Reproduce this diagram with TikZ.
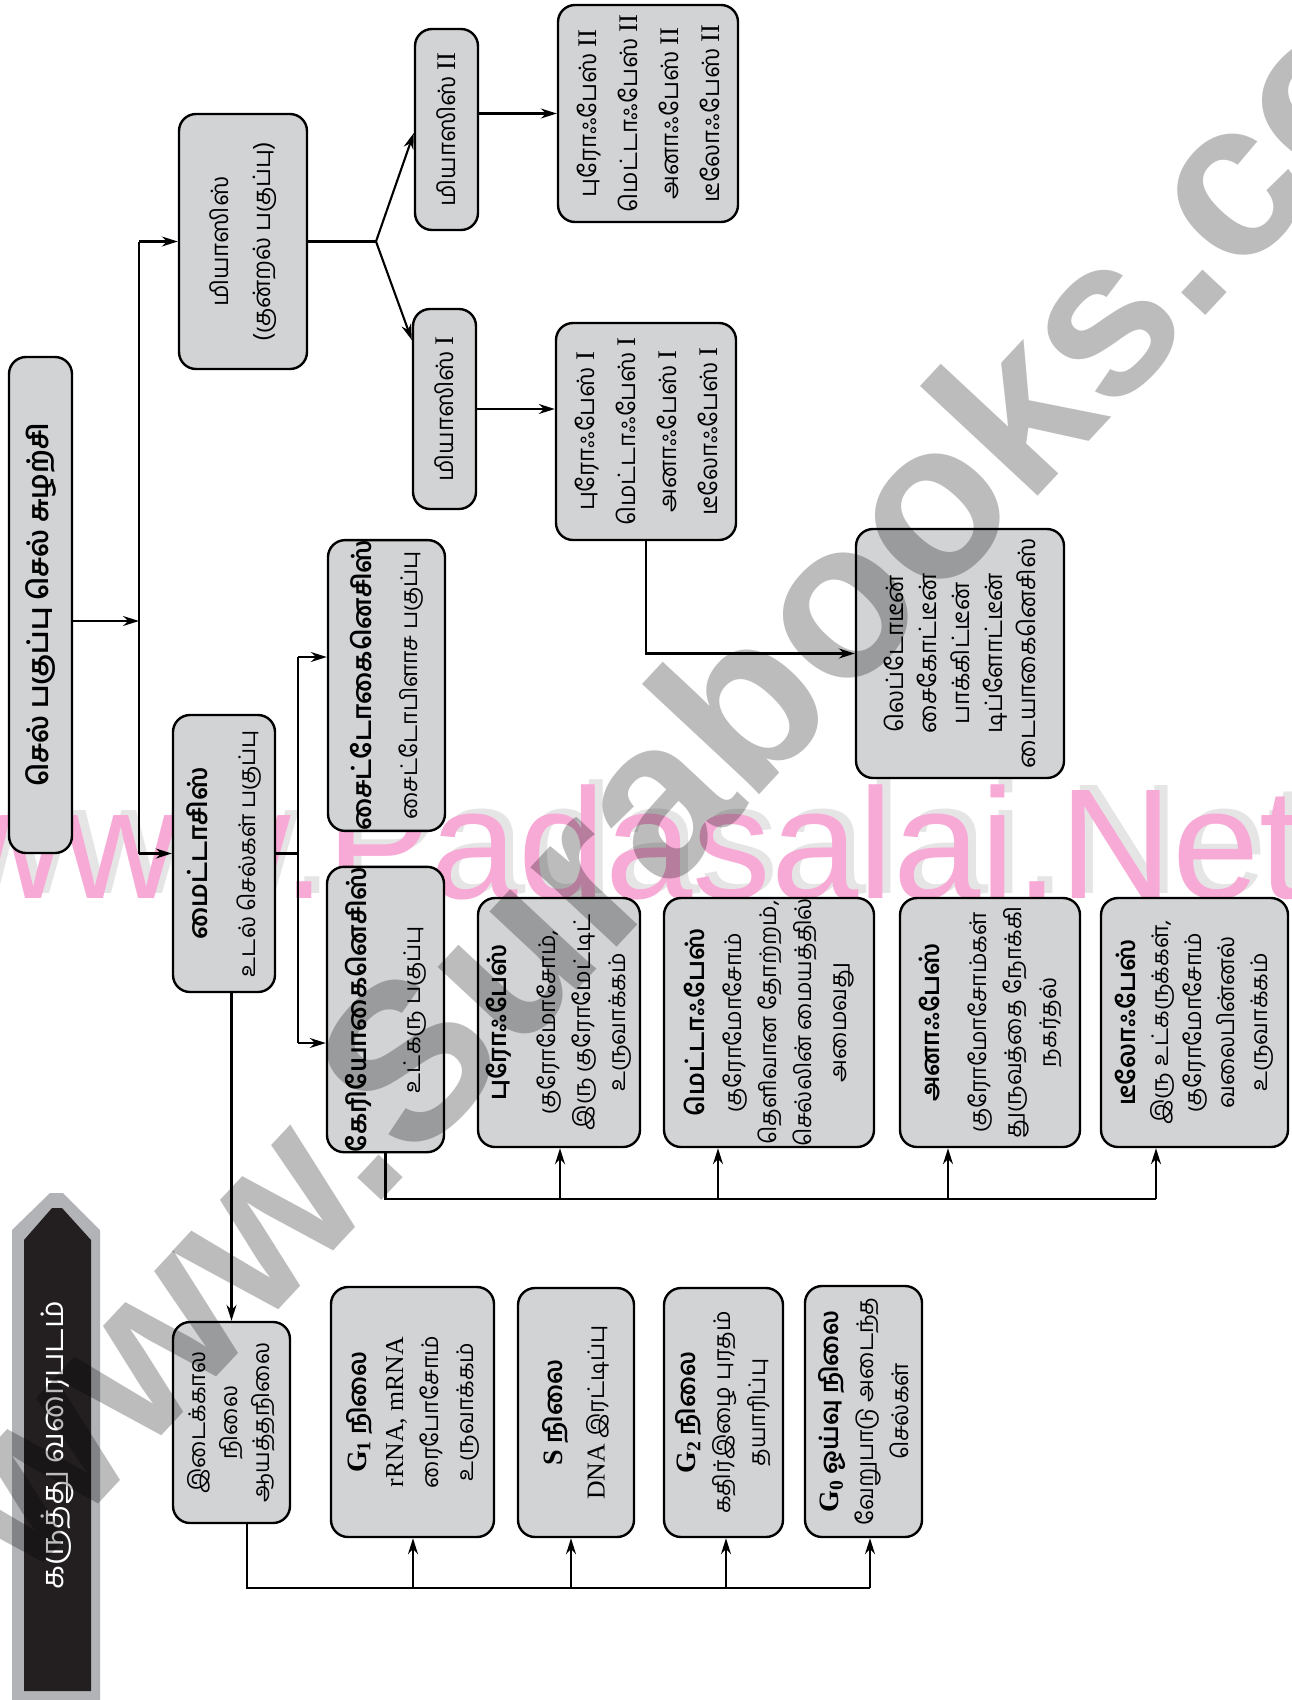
\documentclass[tikz,border=0pt]{standalone}
\usepackage{fontspec}
\setmainfont[Script=Tamil]{Hind Madurai}
\newfontfamily\latf[Scale=1.12]{Liberation Serif}
\newfontfamily\wmf{Liberation Sans}
\usetikzlibrary{arrows.meta,calc}
\definecolor{boxgray}{RGB}{209,211,212}
\definecolor{bannergray}{RGB}{177,179,182}
\definecolor{bannerblack}{RGB}{35,31,32}
\definecolor{wmpink}{RGB}{248,170,214}
\definecolor{wmgray}{RGB}{188,188,188}
\newcommand\enx[1]{{\latf #1}}
\tikzset{
 box/.style={draw=black, line width=2.4pt, fill=boxgray, rounded corners=17pt, rotate=90, align=center, inner sep=0pt, font=\fontsize{23}{35}\selectfont},
 conn/.style={line width=2.1pt},
 arr/.style={conn, -{Stealth[length=16pt,width=10pt]}},
 wm/.style={inner sep=0pt, blend mode=multiply},
}
\newcommand\hdt[1]{{\bfseries\fontsize{25}{35}\selectfont #1}}
\begin{document}
\begin{tikzpicture}[x=1pt,y=-1pt]
\useasboundingbox (0,0) rectangle (1291,1700);
% pink watermark (behind the boxes)
\node[inner sep=0pt, anchor=base west, text=black!10, font=\wmf\fontsize{157}{157}\selectfont] (wm1s) at (-41,893) {www.Padasalai.Net};
\node[inner sep=0pt, anchor=base west, text=wmpink, font=\wmf\fontsize{157}{157}\selectfont] (wm1) at (-49,898) {www.Padasalai.Net};
% boxes
\node[box, minimum width=496, minimum height=63, font=\fontsize{28}{30}\selectfont\bfseries] (title) at (40.5,605) {செல் பகுப்பு செல் சுழற்சி};
\node[box, minimum width=255, minimum height=128, font=\fontsize{24}{42}\selectfont] (mei) at (243,241.5) {மியாஸிஸ்\\(குன்றல் பகுப்பு)};
\node[box, minimum width=201, minimum height=63, font=\fontsize{24}{40}\selectfont] (m2) at (446.5,129.5) {மியாஸிஸ் \enx{II}};
\node[box, minimum width=200, minimum height=63, font=\fontsize{24}{40}\selectfont] (m1) at (444.5,409) {மியாஸிஸ் \enx{I}};
\node[box, minimum width=217, minimum height=180, font=\fontsize{24}{41}\selectfont] (p2) at (648,113.5) {புரோஃபேஸ் \enx{II}\\மெட்டாஃபேஸ் \enx{II}\\அனாஃபேஸ் \enx{II}\\டீலோஃபேஸ் \enx{II}};
\node[box, minimum width=217, minimum height=180, font=\fontsize{24}{41}\selectfont] (p1) at (646,431.5) {புரோஃபேஸ் \enx{I}\\மெட்டாஃபேஸ் \enx{I}\\அனாஃபேஸ் \enx{I}\\டீலோஃபேஸ் \enx{I}};
\node[box, minimum width=249, minimum height=208, font=\fontsize{24}{33}\selectfont] (sub) at (960,653.5) {லெப்டோடீன்\\சைகோட்டீன்\\பாக்கிட்டீன்\\டிப்ளோட்டீன்\\டையாகைனெசிஸ்};
\node[box, minimum width=277, minimum height=102, font=\fontsize{23}{48}\selectfont] (mit) at (224,853.5) {{\bfseries\fontsize{26}{48}\selectfont மைட்டாசிஸ்}\\உடல் செல்கள் பகுப்பு};
\node[box, minimum width=277, minimum height=117, font=\fontsize{23}{46}\selectfont] (cyto) at (386.5,685.5) {{\bfseries\fontsize{26}{46}\selectfont சைட்டோகைனெசிஸ்}\\சைட்டோபிளாச பகுப்பு};
\node[box, minimum width=275, minimum height=117, font=\fontsize{23}{54}\selectfont] (kary) at (385.5,1009.5) {{\bfseries\fontsize{26}{54}\selectfont கேரியோகைனெசிஸ்}\\உட்கரு பகுப்பு};
\node[box, minimum width=249, minimum height=162] (pro) at (559,1022.5) {\hdt{புரோஃபேஸ்}\\[14pt]குரோமோசோம்,\\இரு குரோமேட்டிட்\\உருவாக்கம்};
\node[box, minimum width=249, minimum height=210] (meta) at (769,1022.5) {\hdt{மெட்டாஃபேஸ்}\\[2pt]குரோமோசோம்\\தெளிவான தோற்றம்,\\செல்லின் மையத்தில்\\அமைவது};
\node[box, minimum width=249, minimum height=180] (ana) at (990,1022.5) {\hdt{அனாஃபேஸ்}\\[12pt]குரோமோசோம்கள்\\துருவத்தை நோக்கி\\நகர்தல்};
\node[box, minimum width=249, minimum height=187, font=\fontsize{23}{33}\selectfont] (telo) at (1194.5,1022.5) {\hdt{டீலோஃபேஸ்}\\இரு உட்கருக்கள்,\\குரோமோசோம்\\வலைபின்னல்\\உருவாக்கம்};
\node[box, minimum width=201, minimum height=117, font=\fontsize{23}{32}\selectfont] (inter) at (231.5,1422.5) {இடைக்கால\\நிலை\\ஆயத்தநிலை};
\node[box, minimum width=250, minimum height=163] (g1) at (412.5,1412) {\hdt{\enx{G\textsubscript{1}} நிலை}\\[2pt]\enx{rRNA, mRNA}\\ரைபோசோம்\\உருவாக்கம்};
\node[box, minimum width=249, minimum height=116, font=\fontsize{23}{42}\selectfont] (s) at (576,1412.5) {{\bfseries\fontsize{25}{42}\selectfont\enx{S} நிலை}\\\enx{DNA} இரட்டிப்பு};
\node[box, minimum width=249, minimum height=119] (g2) at (723.5,1412.5) {\hdt{\enx{G\textsubscript{2}} நிலை}\\கதிர்இழை புரதம்\\தயாரிப்பு};
\node[box, minimum width=251, minimum height=117] (g0) at (863.5,1411.5) {\hdt{\enx{G\textsubscript{0}} ஓய்வு நிலை}\\வேறுபாடு அடைந்த\\செல்கள்};
% connectors: main spine
\coordinate (spT) at (139,0 |- mei);
\coordinate (spB) at (139,0 |- mit);
\coordinate (spM) at (139,621);
\draw[conn] (spT) -- (spB);
\draw[arr] (title.south |- spM) -- (spM);
\draw[arr] (spT) -- (mei.north);
\draw[arr] (spB) -- (mit.north);
% meiosis fork
\coordinate (fork) at (376,0 |- mei);
\draw[conn] (mei.south) -- (fork);
\draw[arr] (fork) -- (m2.north |- 0,133);
\draw[arr] (fork) -- (m1.north |- 0,340);
\draw[arr] (m2.south |- p2.north) -- (p2.north);
\draw[arr] (m1.south) -- (m1.south -| p1.north);
\draw[arr] (p1.west) |- (sub.north);
% mitosis branches
\coordinate (kT) at (298,657);
\coordinate (kB) at (298,1043);
\draw[conn] (mit.south) -- (mit.south -| kT);
\draw[conn] (kT) -- (kB);
\draw[arr] (kT) -- (kT -| cyto.north);
\draw[arr] (kB) -- (kB -| kary.north);
\coordinate (kb) at (kary.west |- 0,1199);
\draw[conn] (kary.west) -- (kb) -- (1156,0 |- kb);
\foreach \n/\x in {pro/560, meta/718, ana/948, telo/1156}
  \draw[arr] (\x,0 |- kb) -- (\n.west -| \x,0);
% interphase
\draw[arr] (mit.west -| inter.east) -- (inter.east);
\coordinate (ib) at (247,1588);
\draw[conn] (inter.west -| ib) -- (ib) -- (870,0 |- ib);
\foreach \n/\x in {g1/413, s/571, g2/726, g0/870}
  \draw[arr] (\x,0 |- ib) -- (\n.west -| \x,0);
% banner
\fill[bannergray] (12,1700) -- (12,1230) -- (50,1193) -- (63,1193) -- (100,1230) -- (100,1700) -- cycle;
\fill[bannerblack] (24,1691) -- (24,1240) -- (52,1208) -- (62,1208) -- (91,1240) -- (91,1691) -- cycle;
\node[rotate=90, text=white, font=\fontsize{31}{36}\selectfont] (ban) at (57,1445) {கருத்து வரைபடம்};
% gray watermark (over everything)
\node[wm, rotate=47, text=wmgray, font=\wmf\bfseries\fontsize{222}{222}\selectfont] (wm2) at (728,712) {www.Surabooks.com};
\end{tikzpicture}
\end{document}
